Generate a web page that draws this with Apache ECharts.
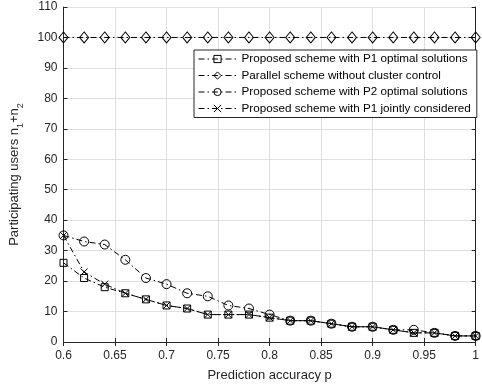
<!DOCTYPE html>
<html>
<head>
<meta charset="utf-8">
<script src="https://cdn.jsdelivr.net/npm/echarts@6/dist/echarts.min.js"></script>
<style>
html,body{margin:0;padding:0;background:#fff;}
#chart{width:482px;height:387px;}
</style>
</head>
<body>
<div id="chart"></div>
<script>
const xValues = [0.6,0.62,0.64,0.66,0.68,0.7,0.72,0.74,0.76,0.78,0.8,0.82,0.84,0.86,0.88,0.9,0.92,0.94,0.96,0.98,1.0];
const p1Optimal = [26,21,18,16,14,12,11,9,9,9,8,7,7,6,5,5,4,3,3,2,2];
const parallelScheme = [100,100,100,100,100,100,100,100,100,100,100,100,100,100,100,100,100,100,100,100,100];
const p2Optimal = [35,33,32,27,21,19,16,15,12,11,9,7,7,6,5,5,4,4,3,2,2];
const p1Joint = [35,23,19,16,14,12,11,9,9,9,8,7,7,6,5,5,4,3,3,2,2];
const seriesNames = [
  'Proposed scheme with P1 optimal solutions',
  'Parallel scheme without cluster control',
  'Proposed scheme with P2 optimal solutions',
  'Proposed scheme with P1 jointly considered'
];
const xTickStep = 0.05;
const yTickStep = 10;

const FONT = '"Liberation Sans", Arial, Helvetica, sans-serif';
const AX = '#262626';
const GRIDC = '#dfdfdf';
const dash = [6, 3, 1.5, 3];
const crossPath = 'path://M0,0L10,10M10,0L0,10';

function pairs(vals){ return xValues.map((x,i)=>[x, vals[i]]); }

function mk(name, vals, symbol, size){
  return {
    name: name, type: 'line', data: pairs(vals),
    symbol: symbol, symbolSize: size, showSymbol: true,
    lineStyle: {color: '#000', width: 1, type: dash},
    itemStyle: {color: 'rgba(255,255,255,0)', borderColor: '#000', borderWidth: 1},
    emphasis: {disabled: true}, animation: false, z: 3
  };
}

const chart = echarts.init(document.getElementById('chart'), null, {renderer: 'canvas'});
const fmtX = v => String(parseFloat((+v).toFixed(2)));
chart.setOption({
  animation: false,
  backgroundColor: '#fff',
  grid: {left: 57, right: 1, top: 7, bottom: 44, containLabel: false},
  xAxis: [{
    type: 'value', min: 0.6, max: 1, interval: xTickStep, position: 'bottom',
    axisLine: {show: true, lineStyle: {color: AX, width: 1}},
    axisTick: {show: true, inside: true, length: 4, lineStyle: {color: AX}},
    axisLabel: {color: AX, fontSize: 12, fontFamily: FONT, margin: 8, formatter: fmtX},
    splitLine: {show: true, lineStyle: {color: GRIDC, width: 1}},
    name: 'Prediction accuracy p', nameLocation: 'middle', nameGap: 27,
    nameTextStyle: {color: AX, fontSize: 13, fontFamily: FONT}
  },{
    type: 'value', min: 0.6, max: 1, interval: xTickStep, position: 'top',
    axisLine: {show: true, lineStyle: {color: AX, width: 1}},
    axisTick: {show: true, inside: true, length: 4, lineStyle: {color: AX}},
    axisLabel: {show: false}, splitLine: {show: false}
  }],
  yAxis: [{
    type: 'value', min: 0, max: 110, interval: yTickStep, position: 'left',
    axisLine: {show: true, lineStyle: {color: AX, width: 1}},
    axisTick: {show: true, inside: true, length: 4, lineStyle: {color: AX}},
    axisLabel: {color: AX, fontSize: 12, fontFamily: FONT, margin: 6},
    splitLine: {show: true, lineStyle: {color: GRIDC, width: 1}},
    name: 'Participating users n{sub|1}+n{sub|2}', nameLocation: 'middle', nameGap: 38,
    nameTextStyle: {color: AX, fontSize: 13, fontFamily: FONT,
      rich: {sub: {fontSize: 9, fontFamily: FONT, color: AX, verticalAlign: 'bottom', lineHeight: 22}}}
  },{
    type: 'value', min: 0, max: 110, interval: yTickStep, position: 'right',
    axisLine: {show: true, lineStyle: {color: AX, width: 1}},
    axisTick: {show: true, inside: true, length: 4, lineStyle: {color: AX}},
    axisLabel: {show: false}, splitLine: {show: false}
  }],
  legend: {
    show: true, orient: 'vertical', left: 194, top: 50,
    backgroundColor: '#fff', borderColor: AX, borderWidth: 1, borderRadius: 0,
    padding: [3, 6, 3, 4], itemGap: 4.5, itemWidth: 38, itemHeight: 9,
    itemStyle: {borderWidth: 1, color: 'rgba(255,255,255,0)', borderColor: '#000'},
    lineStyle: {width: 1, color: '#000'},
    textStyle: {color: '#000', fontSize: 11.7, lineHeight: 12, fontFamily: FONT},
    data: seriesNames, selectedMode: false
  },
  series: [
    mk(seriesNames[0], p1Optimal, 'rect', 7),
    mk(seriesNames[1], parallelScheme, 'diamond', [9, 11]),
    mk(seriesNames[2], p2Optimal, 'circle', 9),
    mk(seriesNames[3], p1Joint, crossPath, 7)
  ]
});
</script>
</body>
</html>
